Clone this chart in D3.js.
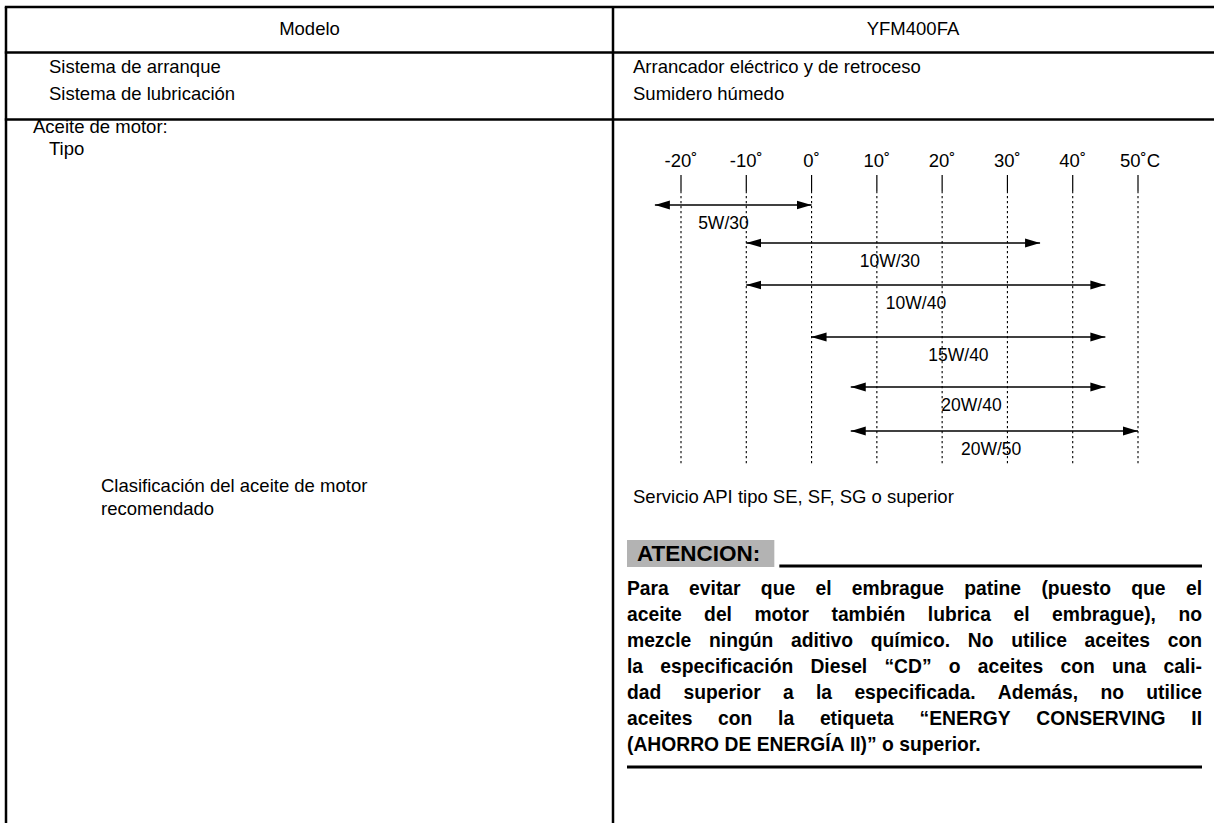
<!DOCTYPE html>
<html><head><meta charset="utf-8">
<script src="https://cdn.jsdelivr.net/npm/d3@7"></script>
<style>
body{margin:0;background:#fff}
svg{display:block}
text{font-family:"Liberation Sans",Arial,Helvetica,sans-serif;fill:#000}
</style>
</head><body>
<svg id="c" width="1214" height="823"></svg>
<script>
// ---- data ----
const tempTicks = [-20, -10, 0, 10, 20, 30, 40, 50];
const tickLabels = ["-20˚", "-10˚", "0˚", "10˚", "20˚", "30˚", "40˚", "50˚C"];
const grades = ["5W/30", "10W/30", "10W/40", "15W/40", "20W/40", "20W/50"];
const lowTemps = [-24, -10, -10, 0, 6, 6];
const highTemps = [0, 35, 45, 45, 45, 50];
const labelTemps = [-13.5, 12, 16, 22.5, 24.5, 27.5];

const headerLabels = ["Modelo", "YFM400FA"];
const specNames = ["Sistema de arranque", "Sistema de lubricación"];
const specValues = ["Arrancador eléctrico y de retroceso", "Sumidero húmedo"];
const oilTitle = "Aceite de motor:";
const oilType = "Tipo";
const classLines = ["Clasificación del aceite de motor", "recomendado"];
const classValue = "Servicio API tipo SE, SF, SG o superior";
const cautionTitle = "ATENCION:";
const cautionLines = [
  "Para evitar que el embrague patine (puesto que el",
  "aceite del motor también lubrica el embrague), no",
  "mezcle ningún aditivo químico. No utilice aceites con",
  "la especificación Diesel “CD” o aceites con una cali-",
  "dad superior a la especificada. Además, no utilice",
  "aceites con la etiqueta “ENERGY CONSERVING II",
  "(AHORRO DE ENERGÍA II)” o superior."
];

// ---- layout ----
const svg = d3.select("#c");
const W = 1214, H = 823;
const FS = 18.5;

const g = svg.append("g");
const bw = 2.5;
[7, 52.5, 119.5].forEach(yy =>
  g.append("line").attr("x1", 4.8).attr("x2", W).attr("y1", yy).attr("y2", yy)
    .attr("stroke", "#000").attr("stroke-width", bw));
[6, 613].forEach(xx =>
  g.append("line").attr("x1", xx).attr("x2", xx).attr("y1", 7).attr("y2", H)
    .attr("stroke", "#000").attr("stroke-width", bw));

function txt(s, x, y, opts = {}) {
  return svg.append("text").attr("x", x).attr("y", y).attr("dy", "0.35em")
    .attr("font-size", opts.fs || FS).attr("font-weight", opts.fw || "normal")
    .attr("text-anchor", opts.anchor || "start").text(s);
}

txt(headerLabels[0], 309.5, 29, {anchor: "middle"});
txt(headerLabels[1], 913, 29, {anchor: "middle"});
specNames.forEach((s, i) => txt(s, 49, 67 + i * 27));
specValues.forEach((s, i) => txt(s, 633, 67 + i * 27));
txt(oilTitle, 33, 127);
txt(oilType, 49, 149);
classLines.forEach((s, i) => txt(s, 101, 486 + i * 23));
txt(classValue, 633, 497);

// ---- temperature chart ----
const x = d3.scaleLinear().domain([-20, 50]).range([681, 1138]);
const rowY = d3.scaleOrdinal().domain(grades).range([205, 243, 285, 337, 387, 431]);

const chart = svg.append("g");
const defs = svg.append("defs");
defs.append("marker").attr("id", "ah").attr("markerUnits", "userSpaceOnUse")
  .attr("viewBox", "0 0 15 10").attr("refX", 15).attr("refY", 5)
  .attr("markerWidth", 15).attr("markerHeight", 10).attr("orient", "auto-start-reverse")
  .append("path").attr("d", "M0,0.6 L15,5 L0,9.4 Z").attr("fill", "#000");

chart.selectAll("text.tl").data(tempTicks).join("text").attr("class", "tl")
  .attr("x", d => x(d) + (d === 50 ? 2 : 0)).attr("y", 161).attr("dy", "0.35em")
  .attr("text-anchor", "middle").attr("font-size", 18.5)
  .text((d, i) => tickLabels[i]);
chart.selectAll("line.tk").data(tempTicks).join("line").attr("class", "tk")
  .attr("x1", d => x(d)).attr("x2", d => x(d)).attr("y1", 175).attr("y2", 191)
  .attr("stroke", "#000").attr("stroke-width", 1.2);
chart.selectAll("line.gd").data(tempTicks).join("line").attr("class", "gd")
  .attr("x1", d => x(d)).attr("x2", d => x(d)).attr("y1", 191).attr("y2", 465)
  .attr("stroke", "#000").attr("stroke-width", 1.1).attr("stroke-dasharray", "2.2,2.8");

grades.forEach((gname, i) => {
  chart.append("line")
    .attr("x1", x(lowTemps[i])).attr("x2", x(highTemps[i]))
    .attr("y1", rowY(gname)).attr("y2", rowY(gname))
    .attr("stroke", "#000").attr("stroke-width", 1.4)
    .attr("marker-start", "url(#ah)").attr("marker-end", "url(#ah)");
  chart.append("text").attr("x", x(labelTemps[i])).attr("y", rowY(gname) + 17.5)
    .attr("dy", "0.35em").attr("text-anchor", "middle").attr("font-size", 17.5)
    .text(gname);
});

// ---- caution box ----
const cx0 = 627, cx1 = 1202;
const CFS = 19.3, TFS = 22.5;

const ct = svg.append("text").attr("x", cx0 + 10).attr("y", 553.5).attr("dy", "0.35em")
  .attr("font-size", TFS).attr("font-weight", "bold").text(cautionTitle);
const tw = ct.node().getComputedTextLength();
svg.insert("rect", "text").attr("x", cx0).attr("y", 540).attr("width", tw + 24).attr("height", 27).attr("fill", "#b3b3b3");
svg.append("line").attr("x1", cx0 + tw + 29).attr("x2", cx1).attr("y1", 566).attr("y2", 566)
  .attr("stroke", "#000").attr("stroke-width", 3);

cautionLines.forEach((line, i) => {
  const y = 588 + i * 26;
  const words = line.split(" ");
  const gl = svg.append("g");
  const nodes = words.map(w => gl.append("text").attr("y", y).attr("dy", "0.35em")
    .attr("font-size", CFS).attr("font-weight", "bold").text(w));
  const widths = nodes.map(n => n.node().getComputedTextLength());
  const total = d3.sum(widths);
  const last = i === cautionLines.length - 1;
  const gap = last ? CFS * 0.278 : Math.max(CFS * 0.2, (cx1 - cx0 - total) / (words.length - 1));
  let xx = cx0;
  nodes.forEach((n, j) => { n.attr("x", xx); xx += widths[j] + gap; });
});
svg.append("line").attr("x1", cx0).attr("x2", cx1).attr("y1", 767).attr("y2", 767)
  .attr("stroke", "#000").attr("stroke-width", 3);
</script>
</body></html>
